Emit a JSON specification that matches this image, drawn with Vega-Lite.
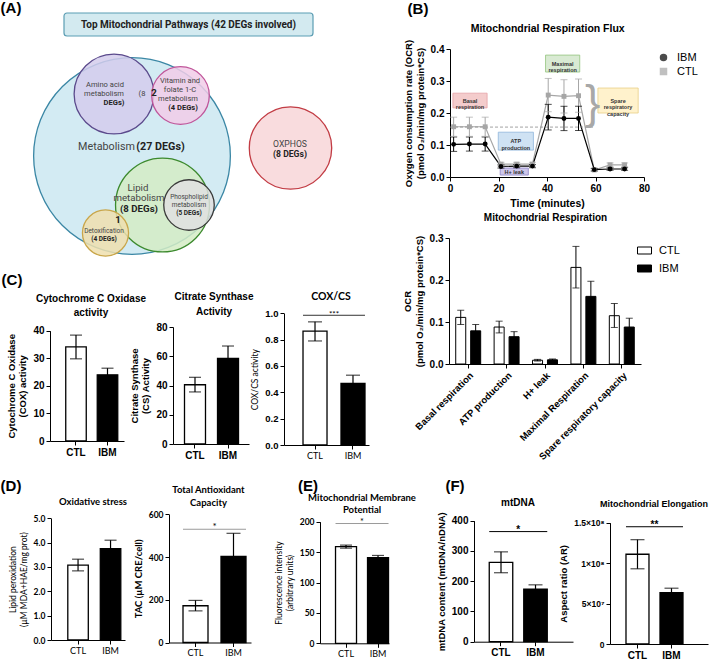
{
"$schema":"https://vega.github.io/schema/vega-lite/v6.json",
"padding":0,
"spacing":0,
"bounds":"flush",
"resolve":{
 "scale":{"fill":"independent","stroke":"independent","color":"independent","shape":"independent","size":"independent","xOffset":"independent"},
 "legend":{"fill":"independent","stroke":"independent","color":"independent","shape":"independent","size":"independent"}
},
"config":{
 "view":{"stroke":null},
 "axis":{"grid":false,"domainColor":"black","tickColor":"black","labelColor":"black","titleColor":"black","labelFont":"Liberation Sans","titleFont":"Liberation Sans","labelFontWeight":"bold","titleFontWeight":"bold","labelFontSize":9.5,"titleFontSize":9.5,"tickSize":4,"domainWidth":1,"tickWidth":1,"labelPadding":2,"titlePadding":5,"labelOverlap":false},
 "axisX":{"labelOverlap":false,"labelFlush":false},
 "axisQuantitative":{"labelOverlap":false},
 "title":{"font":"Liberation Sans","fontWeight":"bold","fontSize":10,"color":"black"},
 "legend":{"labelFont":"Liberation Sans","labelFontSize":11,"labelColor":"black"}
},
"datasets":{
 "flux":[
  {"t":1.5,"g":"CTL","v":0.157,"lo":0.127,"hi":0.187},
  {"t":8,"g":"CTL","v":0.157,"lo":0.127,"hi":0.187},
  {"t":14.5,"g":"CTL","v":0.157,"lo":0.127,"hi":0.187},
  {"t":21,"g":"CTL","v":0.040,"lo":0.034,"hi":0.046},
  {"t":27.5,"g":"CTL","v":0.040,"lo":0.034,"hi":0.046},
  {"t":34,"g":"CTL","v":0.040,"lo":0.034,"hi":0.046},
  {"t":40.5,"g":"CTL","v":0.256,"lo":0.204,"hi":0.308},
  {"t":47,"g":"CTL","v":0.252,"lo":0.200,"hi":0.304},
  {"t":53,"g":"CTL","v":0.254,"lo":0.202,"hi":0.306},
  {"t":59.5,"g":"CTL","v":0.022,"lo":0.018,"hi":0.026},
  {"t":66,"g":"CTL","v":0.038,"lo":0.032,"hi":0.044},
  {"t":72,"g":"CTL","v":0.038,"lo":0.032,"hi":0.044},
  {"t":1.5,"g":"IBM","v":0.102,"lo":0.080,"hi":0.125},
  {"t":8,"g":"IBM","v":0.103,"lo":0.081,"hi":0.125},
  {"t":14.5,"g":"IBM","v":0.103,"lo":0.081,"hi":0.125},
  {"t":21,"g":"IBM","v":0.033,"lo":0.028,"hi":0.038},
  {"t":27.5,"g":"IBM","v":0.034,"lo":0.029,"hi":0.039},
  {"t":34,"g":"IBM","v":0.034,"lo":0.029,"hi":0.039},
  {"t":40.5,"g":"IBM","v":0.187,"lo":0.147,"hi":0.227},
  {"t":47,"g":"IBM","v":0.183,"lo":0.145,"hi":0.221},
  {"t":53,"g":"IBM","v":0.183,"lo":0.145,"hi":0.221},
  {"t":59.5,"g":"IBM","v":0.023,"lo":0.019,"hi":0.027},
  {"t":66,"g":"IBM","v":0.025,"lo":0.021,"hi":0.029},
  {"t":72,"g":"IBM","v":0.025,"lo":0.021,"hi":0.029}
 ],
 "boxes":[
  {"k":"basal","t0":1.2,"t1":15.3,"v0":0.216,"v1":0.262,"tc":8.25,"vc":0.239,"label":"Basal\nrespiration"},
  {"k":"atp","t0":19.9,"t1":34.4,"v0":0.084,"v1":0.14,"tc":27.15,"vc":0.112,"label":"ATP\nproduction"},
  {"k":"leak","t0":20.7,"t1":32.3,"v0":0.006,"v1":0.028,"tc":26.5,"vc":0.017,"label":"H+ leak"},
  {"k":"max","t0":39.4,"t1":53.5,"v0":0.328,"v1":0.381,"tc":46.45,"vc":0.3545,"label":"Maximal\nrespiration"},
  {"k":"spare","t0":61,"t1":77.6,"v0":0.2,"v1":0.278,"tc":69.3,"vc":0.239,"label":"Spare\nrespiratory\ncapacity"}
 ],
 "resp":[
  {"c":"Basal respiration","g":"CTL","v":0.111,"lo":0.094,"hi":0.128},
  {"c":"Basal respiration","g":"IBM","v":0.079,"lo":0.064,"hi":0.094},
  {"c":"ATP production","g":"CTL","v":0.088,"lo":0.074,"hi":0.102},
  {"c":"ATP production","g":"IBM","v":0.065,"lo":0.053,"hi":0.077},
  {"c":"H+ leak","g":"CTL","v":0.009,"lo":0.007,"hi":0.011},
  {"c":"H+ leak","g":"IBM","v":0.010,"lo":0.008,"hi":0.012},
  {"c":"Maximal Respiration","g":"CTL","v":0.230,"lo":0.181,"hi":0.280},
  {"c":"Maximal Respiration","g":"IBM","v":0.161,"lo":0.125,"hi":0.197},
  {"c":"Spare respiratory capacity","g":"CTL","v":0.115,"lo":0.087,"hi":0.144},
  {"c":"Spare respiratory capacity","g":"IBM","v":0.088,"lo":0.067,"hi":0.109}
 ],
 "circles":[
  {"n":"met","x":13.1,"y":15.6,"r":11.1},
  {"n":"ox","x":28.95,"y":14.8,"r":4.65},
  {"n":"amino","x":11.3,"y":9.4,"r":4.5},
  {"n":"vit","x":17.95,"y":9.55,"r":3.25},
  {"n":"lipid","x":16.15,"y":20.5,"r":5.3},
  {"n":"phos","x":18.8,"y":20.5,"r":2.85},
  {"n":"detox","x":10.45,"y":23.3,"r":2.6}
 ],
 "labelsA":[
  {"t":"Amino acid","x":10.4,"y":8.5,"s":"s","b":"n"},
  {"t":"metabolism","x":10.3,"y":9.4,"s":"s","b":"n"},
  {"t":"(8","x":14.1,"y":9.4,"s":"s","b":"n"},
  {"t":"Vitamin and","x":17.9,"y":8.1,"s":"s","b":"n"},
  {"t":"folate 1-C","x":17.9,"y":9.0,"s":"s","b":"n"},
  {"t":"metabolism","x":17.7,"y":9.9,"s":"s","b":"n"},
  {"t":"Metabolism","x":10.55,"y":14.7,"s":"xl","b":"n"},
  {"t":"OXPHOS","x":28.9,"y":14.4,"s":"m","b":"n"},
  {"t":"Lipid","x":13.7,"y":18.8,"s":"l","b":"n"},
  {"t":"metabolism","x":13.8,"y":19.8,"s":"l","b":"n"},
  {"t":"Phospholipid","x":18.8,"y":19.7,"s":"xs","b":"n"},
  {"t":"metabolism","x":18.8,"y":20.5,"s":"xs","b":"n"},
  {"t":"Detoxification","x":10.3,"y":23.1,"s":"xs","b":"n"},
  {"t":"DEGs)","x":11.3,"y":10.3,"s":"s","b":"y"},
  {"t":"2","x":15.3,"y":9.3,"s":"l","b":"y"},
  {"t":"(4 DEGs)","x":18.2,"y":10.8,"s":"s","b":"y"},
  {"t":"(27 DEGs)","x":15.95,"y":14.7,"s":"xl","b":"y"},
  {"t":"(8 DEGs)","x":28.9,"y":15.4,"s":"m","b":"y"},
  {"t":"(8 DEGs)","x":13.8,"y":20.9,"s":"l","b":"y"},
  {"t":"(5 DEGs)","x":18.8,"y":21.3,"s":"xs","b":"y"},
  {"t":"1","x":11.7,"y":22.0,"s":"l","b":"y"},
  {"t":"(4 DEGs)","x":10.3,"y":23.9,"s":"xs","b":"y"}
 ],
 "letters":[
  {"L":"(A)","x":1.0,"y":0.8},
  {"L":"(B)","x":41.7,"y":0.9},
  {"L":"(C)","x":1.1,"y":28.0},
  {"L":"(D)","x":1.0,"y":48.6},
  {"L":"(E)","x":30.7,"y":48.6},
  {"L":"(F)","x":45.4,"y":48.6}
 ]
},
"hconcat":[
 {
  "width":49,"height":300,
  "resolve":{"scale":{"size":"independent"}},
  "layer":[
   {"data":{"values":[{}]},
    "mark":{"type":"rect","cornerRadius":3,"fill":"#d3eaf0","stroke":"#5b9db3","strokeWidth":1.2},
    "encoding":{
     "x":{"datum":6.3,"type":"quantitative","scale":{"domain":[0,70.9],"range":[0,709],"nice":false,"zero":false},"axis":null},
     "x2":{"datum":31.2},
     "y":{"datum":1.3,"type":"quantitative","scale":{"domain":[0,66],"range":[0,660],"nice":false,"zero":false},"axis":null},
     "y2":{"datum":3.6}}},
   {"data":{"values":[{}]},
    "mark":{"type":"text","text":"Top Mitochondrial Pathways (42  DEGs involved)","font":"Roboto","fontWeight":"bold","fontSize":10,"color":"#222"},
    "encoding":{"x":{"datum":18.75,"type":"quantitative"},"y":{"datum":2.5,"type":"quantitative"}}},
   {"data":{"name":"circles"},
    "mark":{"type":"point","shape":"circle","filled":true,"fillOpacity":0.85,"strokeOpacity":1,"strokeWidth":1.3},
    "encoding":{
     "x":{"field":"x","type":"quantitative"},
     "y":{"field":"y","type":"quantitative"},
     "size":{"field":"r","type":"quantitative","scale":{"type":"pow","exponent":2,"domain":[0,12],"range":[0,45239],"clamp":false},"legend":null},
     "fill":{"field":"n","type":"nominal","scale":{"domain":["met","ox","amino","vit","lipid","phos","detox"],"range":["#cbe8f1","#f8d6d8","#d4cdec","#f1cde7","#d3ecc4","#e0e0e0","#eedfae"]},"legend":null},
     "stroke":{"field":"n","type":"nominal","scale":{"domain":["met","ox","amino","vit","lipid","phos","detox"],"range":["#3b87a5","#c23c44","#5b4a8c","#c0559a","#3c8a2e","#3a3a3a","#c9a64a"]},"legend":null}}},
   {"data":{"name":"labelsA"},
    "transform":[{"filter":"datum.b == 'n'"}],
    "mark":{"type":"text","font":"Roboto","color":"#444","baseline":"middle"},
    "encoding":{
     "x":{"field":"x","type":"quantitative"},
     "y":{"field":"y","type":"quantitative"},
     "text":{"field":"t"},
     "size":{"field":"s","type":"ordinal","scale":{"domain":["xs","s","m","l","xl"],"range":[6.5,10.75]},"legend":null}}},
   {"data":{"name":"labelsA"},
    "transform":[{"filter":"datum.b == 'y'"}],
    "mark":{"type":"text","font":"Roboto","fontWeight":"bold","color":"#222","baseline":"middle"},
    "encoding":{
     "x":{"field":"x","type":"quantitative"},
     "y":{"field":"y","type":"quantitative"},
     "text":{"field":"t"},
     "size":{"field":"s","type":"ordinal","scale":{"domain":["xs","s","m","l","xl"],"range":[6.5,10.75]},"legend":null}}},
   {"data":{"name":"letters"},
    "mark":{"type":"text","font":"Liberation Sans","fontWeight":"bold","fontSize":15,"color":"black","baseline":"middle"},
    "encoding":{
     "x":{"field":"x","type":"quantitative"},
     "y":{"field":"y","type":"quantitative"},
     "text":{"field":"L"}}}
  ]
 },
 {
  "width":1,"height":441,
  "title":{"text":["Cytochrome C Oxidase","activity"],"anchor":"middle","frame":"group","offset":0,"lineHeight":14.5,"dx":40.5,"dy":318},
  "data":{"values":[{"g":"CTL","v":34.1,"lo":29.8,"hi":38.4},{"g":"IBM","v":24.0,"lo":21.6,"hi":26.4}]},
  "layer":[
   {"mark":{"type":"bar","stroke":"black","strokeWidth":1.3},
    "encoding":{
     "x":{"field":"g","type":"nominal","scale":{"domain":["CTL","IBM"],"range":[0,74],"paddingInner":0.349,"paddingOuter":0.349,"align":0.716},"axis":{"title":null,"labelAngle":0,"labelFontSize":10}},
     "y":{"field":"v","type":"quantitative","scale":{"domain":[0,40],"range":[441,330.7],"nice":false,"zero":false},"axis":{"values":[0,10,20,30,40],"title":["Cytochrome C Oxidase","(COX) activity"],"labelFontSize":10}},
     "fill":{"field":"g","type":"nominal","scale":{"domain":["CTL","IBM"],"range":["white","black"]},"legend":null}}},
   {"mark":{"type":"rule","color":"black","strokeWidth":1.2},
    "encoding":{"x":{"field":"g","type":"nominal"},"y":{"field":"lo","type":"quantitative"},"y2":{"field":"hi"}}},
   {"mark":{"type":"tick","orient":"horizontal","size":12,"thickness":1.2,"color":"black"},
    "encoding":{"x":{"field":"g","type":"nominal"},"y":{"field":"hi","type":"quantitative"}}},
   {"mark":{"type":"tick","orient":"horizontal","size":12,"thickness":1.2,"color":"black"},
    "encoding":{"x":{"field":"g","type":"nominal"},"y":{"field":"lo","type":"quantitative"}}}
  ]
 },
 {
  "width":118,"height":640,
  "title":{"text":"Oxidative stress","anchor":"middle","frame":"group","offset":0,"dx":-17,"dy":506,"font":"Lato","fontSize":9.5},
  "data":{"values":[{"g":"CTL","v":3.08,"lo":2.84,"hi":3.32},{"g":"IBM","v":3.75,"lo":3.40,"hi":4.10}]},
  "layer":[
   {"mark":{"type":"bar","stroke":"black","strokeWidth":1.3},
    "encoding":{
     "x":{"field":"g","type":"nominal","scale":{"domain":["CTL","IBM"],"range":[0,74],"paddingInner":0.369,"paddingOuter":0.323,"align":0.8},"axis":{"title":null,"labelAngle":0,"labelFont":"Lato","labelFontWeight":"normal","labelFontSize":9}},
     "y":{"field":"v","type":"quantitative","scale":{"domain":[0,5],"range":[640,518.3],"nice":false,"zero":false},"axis":{"values":[0,1,2,3,4,5],"title":["Lipid peroxidation","(µM MDA+HAE/mg prot)"],"labelFont":"Lato","labelFontSize":8.5,"titleFont":"Lato","titleFontWeight":"normal","titleFontSize":8.5}},
     "fill":{"field":"g","type":"nominal","scale":{"domain":["CTL","IBM"],"range":["white","black"]},"legend":null}}},
   {"mark":{"type":"rule","color":"black","strokeWidth":1.2},
    "encoding":{"x":{"field":"g","type":"nominal"},"y":{"field":"lo","type":"quantitative"},"y2":{"field":"hi"}}},
   {"mark":{"type":"tick","orient":"horizontal","size":12,"thickness":1.2,"color":"black"},
    "encoding":{"x":{"field":"g","type":"nominal"},"y":{"field":"hi","type":"quantitative"}}},
   {"mark":{"type":"tick","orient":"horizontal","size":12,"thickness":1.2,"color":"black"},
    "encoding":{"x":{"field":"g","type":"nominal"},"y":{"field":"lo","type":"quantitative"}}}
  ]
 },
 {
  "width":4,"height":642.5,
  "title":{"text":["Total Antioxidant","Capacity"],"anchor":"middle","frame":"group","offset":0,"dx":37.5,"dy":507.5,"font":"Lato","fontSize":9.5,"lineHeight":13.5},
  "data":{"values":[{"g":"CTL","v":172,"lo":148,"hi":197},{"g":"IBM","v":403,"lo":295,"hi":511}]},
  "layer":[
   {"mark":{"type":"bar","stroke":"black","strokeWidth":1.3},
    "encoding":{
     "x":{"field":"g","type":"nominal","scale":{"domain":["CTL","IBM"],"range":[0,82],"paddingInner":0.342,"paddingOuter":0.25,"align":0.737},"axis":{"title":null,"labelAngle":0,"labelFont":"Lato","labelFontWeight":"normal","labelFontSize":9}},
     "y":{"field":"v","type":"quantitative","scale":{"domain":[0,600],"range":[642.5,514.3],"nice":false,"zero":false},"axis":{"values":[0,200,400,600],"title":"TAC (µM CRE/cell)","labelFont":"Lato","labelFontSize":8.5,"titleFont":"Lato","titleFontSize":9.5}},
     "fill":{"field":"g","type":"nominal","scale":{"domain":["CTL","IBM"],"range":["white","black"]},"legend":null}}},
   {"mark":{"type":"rule","color":"black","strokeWidth":1.2},
    "encoding":{"x":{"field":"g","type":"nominal"},"y":{"field":"lo","type":"quantitative"},"y2":{"field":"hi"}}},
   {"mark":{"type":"tick","orient":"horizontal","size":14,"thickness":1.2,"color":"black"},
    "encoding":{"x":{"field":"g","type":"nominal"},"y":{"field":"hi","type":"quantitative"}}},
   {"mark":{"type":"tick","orient":"horizontal","size":14,"thickness":1.2,"color":"black"},
    "encoding":{"x":{"field":"g","type":"nominal"},"y":{"field":"lo","type":"quantitative"}}},
   {"data":{"values":[{}]},"mark":{"type":"rule","color":"#9a9a9a","strokeWidth":1},
    "encoding":{"x":{"datum":"CTL","bandPosition":0,"type":"nominal"},"x2":{"datum":"IBM","bandPosition":1},"y":{"datum":530,"type":"quantitative"}}},
   {"data":{"values":[{}]},"mark":{"type":"text","text":"*","fontSize":10,"font":"Lato","baseline":"alphabetic","dy":1},
    "encoding":{"x":{"datum":"CTL","bandPosition":1.26,"type":"nominal"},"y":{"datum":530,"type":"quantitative"}}}
  ]
 },
 {
  "width":111,"height":444,
  "title":{"text":["Citrate Synthase","Activity"],"anchor":"middle","frame":"group","offset":0,"lineHeight":14.5,"dx":-14.5,"dy":316.5},
  "data":{"values":[{"g":"CTL","v":40.5,"lo":35.6,"hi":45.6},{"g":"IBM","v":58.6,"lo":50.2,"hi":67.0}]},
  "layer":[
   {"mark":{"type":"bar","stroke":"black","strokeWidth":1.3},
    "encoding":{
     "x":{"field":"g","type":"nominal","scale":{"domain":["CTL","IBM"],"range":[0,76],"paddingInner":0.364,"paddingOuter":0.333,"align":0.523},"axis":{"title":null,"labelAngle":0,"labelFontSize":10}},
     "y":{"field":"v","type":"quantitative","scale":{"domain":[0,80],"range":[444,327],"nice":false,"zero":false},"axis":{"values":[0,20,40,60,80],"title":["Citrate Synthase","(CS) Activity"],"labelFontSize":10}},
     "fill":{"field":"g","type":"nominal","scale":{"domain":["CTL","IBM"],"range":["white","black"]},"legend":null}}},
   {"mark":{"type":"rule","color":"black","strokeWidth":1.2},
    "encoding":{"x":{"field":"g","type":"nominal"},"y":{"field":"lo","type":"quantitative"},"y2":{"field":"hi"}}},
   {"mark":{"type":"tick","orient":"horizontal","size":12,"thickness":1.2,"color":"black"},
    "encoding":{"x":{"field":"g","type":"nominal"},"y":{"field":"hi","type":"quantitative"}}},
   {"mark":{"type":"tick","orient":"horizontal","size":12,"thickness":1.2,"color":"black"},
    "encoding":{"x":{"field":"g","type":"nominal"},"y":{"field":"lo","type":"quantitative"}}}
  ]
 },
 {
  "width":36,"height":445,
  "title":{"text":"COX/CS","anchor":"middle","frame":"group","offset":0,"dx":29,"dy":302.5,"font":"Lato","fontSize":10.5},
  "data":{"values":[{"g":"CTL","v":0.865,"lo":0.79,"hi":0.935},{"g":"IBM","v":0.467,"lo":0.405,"hi":0.53}]},
  "layer":[
   {"mark":{"type":"bar","stroke":"black","strokeWidth":1.3},
    "encoding":{
     "x":{"field":"g","type":"nominal","scale":{"domain":["CTL","IBM"],"range":[0,85],"paddingInner":0.368,"paddingOuter":0.303,"align":0.826},"axis":{"title":null,"labelAngle":0,"labelFont":"Lato","labelFontWeight":"normal","labelFontSize":9}},
     "y":{"field":"v","type":"quantitative","scale":{"domain":[0,1],"range":[445,313.3],"nice":false,"zero":false},"axis":{"values":[0,0.2,0.4,0.6,0.8,1],"format":".1f","title":"COX/CS activity","labelFontSize":9.5,"titleFont":"Lato","titleFontWeight":"normal","titleFontSize":8.5}},
     "fill":{"field":"g","type":"nominal","scale":{"domain":["CTL","IBM"],"range":["white","black"]},"legend":null}}},
   {"mark":{"type":"rule","color":"black","strokeWidth":1.2},
    "encoding":{"x":{"field":"g","type":"nominal"},"y":{"field":"lo","type":"quantitative"},"y2":{"field":"hi"}}},
   {"mark":{"type":"tick","orient":"horizontal","size":14,"thickness":1.2,"color":"black"},
    "encoding":{"x":{"field":"g","type":"nominal"},"y":{"field":"hi","type":"quantitative"}}},
   {"mark":{"type":"tick","orient":"horizontal","size":14,"thickness":1.2,"color":"black"},
    "encoding":{"x":{"field":"g","type":"nominal"},"y":{"field":"lo","type":"quantitative"}}},
   {"data":{"values":[{}]},"mark":{"type":"rule","color":"#333","strokeWidth":1},
    "encoding":{"x":{"datum":"CTL","bandPosition":0,"type":"nominal"},"x2":{"datum":"IBM","bandPosition":1},"y":{"datum":0.985,"type":"quantitative"}}},
   {"data":{"values":[{}]},"mark":{"type":"text","text":"***","fontSize":8,"font":"Lato","baseline":"alphabetic","dy":2},
    "encoding":{"x":{"datum":"CTL","bandPosition":1.29,"type":"nominal"},"y":{"datum":0.985,"type":"quantitative"}}}
  ]
 },
 {
  "width":129,"height":643.3,
  "title":{"text":["Mitochondrial Membrane","Potential"],"anchor":"middle","frame":"group","offset":0,"dx":-22.5,"dy":514.5,"font":"Lato","fontSize":9.5,"lineHeight":12.4},
  "data":{"values":[{"g":"CTL","v":159,"lo":156.5,"hi":161.5},{"g":"IBM","v":141,"lo":137.5,"hi":144.5}]},
  "layer":[
   {"mark":{"type":"bar","stroke":"black","strokeWidth":1.3},
    "encoding":{
     "x":{"field":"g","type":"nominal","scale":{"domain":["CTL","IBM"],"range":[0,69],"paddingInner":0.344,"paddingOuter":0.25,"align":0.97},"axis":{"title":null,"labelAngle":0,"labelFont":"Lato","labelFontWeight":"normal","labelFontSize":9}},
     "y":{"field":"v","type":"quantitative","scale":{"domain":[0,200],"range":[643.3,521.7],"nice":false,"zero":false},"axis":{"values":[0,50,100,150,200],"title":["Fluorescence intensity","(arbitrary units)"],"labelFont":"Lato","labelFontSize":8.5,"titleFont":"Lato","titleFontWeight":"normal","titleFontSize":8.5}},
     "fill":{"field":"g","type":"nominal","scale":{"domain":["CTL","IBM"],"range":["white","black"]},"legend":null}}},
   {"mark":{"type":"rule","color":"black","strokeWidth":1.2},
    "encoding":{"x":{"field":"g","type":"nominal"},"y":{"field":"lo","type":"quantitative"},"y2":{"field":"hi"}}},
   {"mark":{"type":"tick","orient":"horizontal","size":12,"thickness":1.2,"color":"black"},
    "encoding":{"x":{"field":"g","type":"nominal"},"y":{"field":"hi","type":"quantitative"}}},
   {"mark":{"type":"tick","orient":"horizontal","size":12,"thickness":1.2,"color":"black"},
    "encoding":{"x":{"field":"g","type":"nominal"},"y":{"field":"lo","type":"quantitative"}}},
   {"data":{"values":[{}]},"mark":{"type":"rule","color":"#9a9a9a","strokeWidth":1},
    "encoding":{"x":{"datum":"CTL","bandPosition":0,"type":"nominal"},"x2":{"datum":"IBM","bandPosition":1},"y":{"datum":197,"type":"quantitative"}}},
   {"data":{"values":[{}]},"mark":{"type":"text","text":"*","fontSize":9,"font":"Lato","baseline":"alphabetic","dy":1},
    "encoding":{"x":{"datum":"CTL","bandPosition":1.26,"type":"nominal"},"y":{"datum":197,"type":"quantitative"}}}
  ]
 },
 {
  "width":1,"height":364,
  "title":{"text":"Mitochondrial Respiration","anchor":"middle","frame":"group","offset":0,"dx":96,"dy":222.5},
  "data":{"name":"resp"},
  "layer":[
   {"mark":{"type":"bar","stroke":"black","strokeWidth":1},
    "encoding":{
     "x":{"field":"c","type":"nominal","scale":{"domain":["Basal respiration","ATP production","H+ leak","Maximal Respiration","Spare respiratory capacity"],"range":[0,192],"paddingInner":0,"paddingOuter":0},"axis":{"title":null,"labelAngle":-45,"labelAlign":"right","labelBaseline":"top","labelFontSize":9.5}},
     "xOffset":{"field":"g","type":"nominal","scale":{"domain":["CTL","IBM"],"paddingInner":0.33,"paddingOuter":0.45}},
     "y":{"field":"v","type":"quantitative","scale":{"domain":[0,0.3],"range":[364,238],"nice":false,"zero":false},"axis":{"values":[0,0.1,0.2,0.3],"format":".1f","title":["OCR","(pmol O₂/min/mg protein*CS)"],"labelFontSize":10}},
     "fill":{"field":"g","type":"nominal","scale":{"domain":["CTL","IBM"],"range":["white","black"]},"legend":{"orient":"none","legendX":188,"legendY":243,"direction":"vertical","title":null,"symbolType":"M-1,-0.5H1V0.5H-1Z","symbolSize":196,"symbolStrokeColor":"black","symbolStrokeWidth":1,"labelFontSize":11,"rowPadding":5,"labelOffset":7}}}},
   {"mark":{"type":"rule","color":"black","strokeWidth":1},
    "encoding":{"x":{"field":"c","type":"nominal"},"xOffset":{"field":"g","type":"nominal"},"y":{"field":"lo","type":"quantitative"},"y2":{"field":"hi"}}},
   {"mark":{"type":"tick","orient":"horizontal","size":7,"thickness":1,"color":"black"},
    "encoding":{"x":{"field":"c","type":"nominal"},"xOffset":{"field":"g","type":"nominal"},"y":{"field":"hi","type":"quantitative"}}},
   {"mark":{"type":"tick","orient":"horizontal","size":7,"thickness":1,"color":"black"},
    "encoding":{"x":{"field":"c","type":"nominal"},"xOffset":{"field":"g","type":"nominal"},"y":{"field":"lo","type":"quantitative"}}}
  ]
 },
 {
  "width":24,"height":177,
  "title":{"text":"Mitochondrial Respiration Flux","anchor":"middle","frame":"group","offset":0,"dx":85.7,"dy":34.5,"fontSize":10.5},
  "layer":[
   {"data":{"name":"flux"},"mark":{"type":"line","strokeWidth":1.2},
    "encoding":{
     "x":{"field":"t","type":"quantitative","scale":{"domain":[0,80],"range":[0,194],"nice":false,"zero":false},"axis":{"values":[0,20,40,60,80],"tickCount":5,"title":"Time (minutes)","titleFontSize":10.5,"labelFontSize":10,"labelFlush":false,"labelOverlap":false,"labelBound":false}},
     "y":{"field":"v","type":"quantitative","scale":{"domain":[0,0.4],"range":[177,49],"nice":false,"zero":false},"axis":{"values":[0,0.1,0.2,0.3,0.4],"format":".1f","title":["Oxygen consumption rate (OCR)","(pmol O₂/min/mg protein*CS)"],"titleFontSize":9.5,"labelFontSize":10}},
     "color":{"field":"g","type":"nominal","scale":{"domain":["IBM","CTL"],"range":["black","#a6a6a6"]}}}},
   {"data":{"name":"boxes"},"mark":{"type":"rect","strokeWidth":0.8},
    "encoding":{
     "x":{"field":"t0","type":"quantitative"},
     "x2":{"field":"t1"},
     "y":{"field":"v0","type":"quantitative"},
     "y2":{"field":"v1"},
     "fill":{"field":"k","type":"nominal","scale":{"domain":["basal","atp","leak","max","spare"],"range":["#f4cccc","#cfe2f3","#cdc6ea","#d9ead3","#fff2cc"]},"legend":null},
     "stroke":{"field":"k","type":"nominal","scale":{"domain":["basal","atp","leak","max","spare"],"range":["#e6a1a6","#8fb5dc","#8c80c4","#93c47d","#e9cf86"]},"legend":null}}},
   {"data":{"name":"boxes"},"mark":{"type":"text","font":"Liberation Sans","fontSize":5.5,"fontWeight":"bold","lineBreak":"\n","lineHeight":6.5,"color":"#333","baseline":"middle"},
    "encoding":{"x":{"field":"tc","type":"quantitative"},"y":{"field":"vc","type":"quantitative"},"text":{"field":"label"}}},
   {"data":{"values":[{}]},"mark":{"type":"rule","color":"#8c8c8c","strokeDash":[3,2],"strokeWidth":0.8},
    "encoding":{"x":{"datum":0,"type":"quantitative"},"x2":{"datum":59.5},"y":{"datum":0.156,"type":"quantitative"}}},
   {"data":{"values":[{}]},"mark":{"type":"text","text":"}","font":"Liberation Sans","fontSize":46,"color":"#a8a8a8","baseline":"middle"},
    "encoding":{"x":{"datum":58.8,"type":"quantitative"},"y":{"datum":0.227,"type":"quantitative"}}},
   {"data":{"name":"flux"},"mark":{"type":"rule","strokeWidth":1},
    "encoding":{"x":{"field":"t","type":"quantitative"},"y":{"field":"lo","type":"quantitative"},"y2":{"field":"hi"},
     "color":{"field":"g","type":"nominal"}}},
   {"data":{"name":"flux"},"mark":{"type":"tick","orient":"horizontal","size":7,"thickness":1},
    "encoding":{"x":{"field":"t","type":"quantitative"},"y":{"field":"hi","type":"quantitative"},
     "color":{"field":"g","type":"nominal"}}},
   {"data":{"name":"flux"},"mark":{"type":"tick","orient":"horizontal","size":7,"thickness":1},
    "encoding":{"x":{"field":"t","type":"quantitative"},"y":{"field":"lo","type":"quantitative"},
     "color":{"field":"g","type":"nominal"}}},
   {"data":{"name":"flux"},"mark":{"type":"point","filled":true,"size":24,"opacity":1},
    "encoding":{
     "x":{"field":"t","type":"quantitative"},
     "y":{"field":"v","type":"quantitative"},
     "color":{"field":"g","type":"nominal","legend":{"orient":"none","legendX":208,"legendY":52,"direction":"vertical","title":null,"symbolSize":36,"labelFontSize":11,"rowPadding":1,"labelOffset":8}},
     "shape":{"field":"g","type":"nominal","scale":{"domain":["IBM","CTL"],"range":["circle","square"]},"legend":{"orient":"none","legendX":208,"legendY":52,"direction":"vertical","title":null,"symbolSize":36,"labelFontSize":11,"rowPadding":1,"labelOffset":8}}}}
  ]
 },
 {
  "width":136,"height":641.7,
  "title":{"text":"mtDNA","anchor":"middle","frame":"group","offset":0,"dx":-24,"dy":507.5},
  "data":{"values":[{"g":"CTL","v":262,"lo":228,"hi":297},{"g":"IBM","v":174,"lo":160,"hi":188}]},
  "layer":[
   {"mark":{"type":"bar","stroke":"black","strokeWidth":1.3},
    "encoding":{
     "x":{"field":"g","type":"nominal","scale":{"domain":["CTL","IBM"],"range":[0,99],"paddingInner":0.319,"paddingOuter":0.594,"align":0.372},"axis":{"title":null,"labelAngle":0,"labelFontSize":10}},
     "y":{"field":"v","type":"quantitative","scale":{"domain":[0,400],"range":[641.7,520.7],"nice":false,"zero":false},"axis":{"values":[0,100,200,300,400],"title":"mtDNA content (mtDNA/nDNA)","labelFontSize":10}},
     "fill":{"field":"g","type":"nominal","scale":{"domain":["CTL","IBM"],"range":["white","black"]},"legend":null}}},
   {"mark":{"type":"rule","color":"black","strokeWidth":1.2},
    "encoding":{"x":{"field":"g","type":"nominal"},"y":{"field":"lo","type":"quantitative"},"y2":{"field":"hi"}}},
   {"mark":{"type":"tick","orient":"horizontal","size":14,"thickness":1.2,"color":"black"},
    "encoding":{"x":{"field":"g","type":"nominal"},"y":{"field":"hi","type":"quantitative"}}},
   {"mark":{"type":"tick","orient":"horizontal","size":14,"thickness":1.2,"color":"black"},
    "encoding":{"x":{"field":"g","type":"nominal"},"y":{"field":"lo","type":"quantitative"}}},
   {"data":{"values":[{}]},"mark":{"type":"rule","color":"black","strokeWidth":1},
    "encoding":{"x":{"datum":"CTL","bandPosition":0,"type":"nominal"},"x2":{"datum":"IBM","bandPosition":1},"y":{"datum":364,"type":"quantitative"}}},
   {"data":{"values":[{}]},"mark":{"type":"text","text":"*","fontSize":10,"fontWeight":"bold","baseline":"alphabetic","dy":1},
    "encoding":{"x":{"datum":"CTL","bandPosition":1.234,"type":"nominal"},"y":{"datum":364,"type":"quantitative"}}}
  ]
 },
 {
  "width":100,"height":644,
  "title":{"text":"Mitochondrial Elongation","anchor":"middle","frame":"group","offset":0,"dx":-6,"dy":508.5,"fontSize":9},
  "data":{"values":[{"g":"CTL","v":111000000,"lo":93000000,"hi":129000000},{"g":"IBM","v":63500000,"lo":58000000,"hi":69000000}]},
  "layer":[
   {"mark":{"type":"bar","stroke":"black","strokeWidth":1.3},
    "encoding":{
     "x":{"field":"g","type":"nominal","scale":{"domain":["CTL","IBM"],"range":[0,98],"paddingInner":0.324,"paddingOuter":0.603,"align":0.39},"axis":{"title":null,"labelAngle":0,"labelFontSize":10}},
     "y":{"field":"v","type":"quantitative","scale":{"domain":[0,150000000],"range":[644,522.7],"nice":false,"zero":false},"axis":{"values":[0,50000000,100000000,150000000],"labelExpr":"datum.value == 0 ? '0' : datum.value == 50000000 ? '5×10⁷' : datum.value == 100000000 ? '1×10⁸' : '1.5×10⁸'","title":"Aspect ratio (AR)","labelFontSize":8.5}},
     "fill":{"field":"g","type":"nominal","scale":{"domain":["CTL","IBM"],"range":["white","black"]},"legend":null}}},
   {"mark":{"type":"rule","color":"black","strokeWidth":1.2},
    "encoding":{"x":{"field":"g","type":"nominal"},"y":{"field":"lo","type":"quantitative"},"y2":{"field":"hi"}}},
   {"mark":{"type":"tick","orient":"horizontal","size":14,"thickness":1.2,"color":"black"},
    "encoding":{"x":{"field":"g","type":"nominal"},"y":{"field":"hi","type":"quantitative"}}},
   {"mark":{"type":"tick","orient":"horizontal","size":14,"thickness":1.2,"color":"black"},
    "encoding":{"x":{"field":"g","type":"nominal"},"y":{"field":"lo","type":"quantitative"}}},
   {"data":{"values":[{}]},"mark":{"type":"rule","color":"black","strokeWidth":1},
    "encoding":{"x":{"datum":"CTL","bandPosition":0,"type":"nominal"},"x2":{"datum":"IBM","bandPosition":1},"y":{"datum":145000000,"type":"quantitative"}}},
   {"data":{"values":[{}]},"mark":{"type":"text","text":"**","fontSize":10,"fontWeight":"bold","baseline":"alphabetic","dy":1},
    "encoding":{"x":{"datum":"CTL","bandPosition":1.24,"type":"nominal"},"y":{"datum":145000000,"type":"quantitative"}}}
  ]
 }
]
}
